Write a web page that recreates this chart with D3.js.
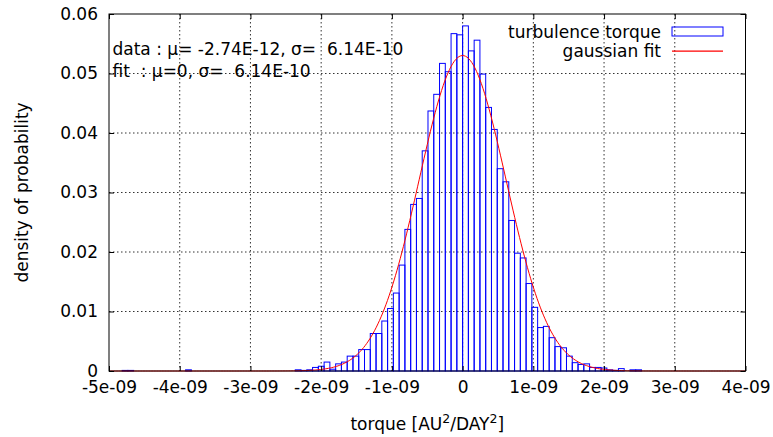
<!DOCTYPE html>
<html><head><meta charset="utf-8">
<script src="https://cdn.jsdelivr.net/npm/d3@7"></script>
<style>
html,body{margin:0;padding:0;background:#fff;}
text{font-family:"DejaVu Sans",sans-serif;white-space:pre;}
</style></head>
<body><svg id="c" width="773" height="437"></svg>
<script>
// ---- data ----
const binWidth = 8.16e-11;           // histogram bin width
const firstBin = -60;                // index of the first bin (bin i spans [i*w,(i+1)*w))
const binValues = [
  0,0.0001,0.0001,0,0,0,0,0,0,0, 0,0,0.0002,0,0,0,0,0,0,0, 0,0,0,0,0,0,0,0,0,0, 0,          // -60..-30
  0.0002,0.0001,                                                                            // -29,-28
  0.0002,0.0006,0.0008,0.0015,0.0003,0.0012,0.0015,0.0025,0.0025,0.0036,                    // -27..-18
  0.0036,0.0063,0.0063,0.0084,0.0105,0.0131,0.0178,0.0238,0.0280,0.0290,                    // -17..-8
  0.0370,0.0437,0.0465,0.0517,0.0503,0.0567,0.0565,                                         // -7..-1
  0.0580,0.0538,0.0556,0.0499,0.0443,0.0406,0.0340,0.0318,0.0253,0.0198,                    // 0..9
  0.0190,0.0147,0.0107,0.0073,0.0075,0.0056,0.0041,0.0039,0.0025,0.0014,                    // 10..19
  0.0011,0.0012,0.0006,0.0006,0.0005,0.0002,0.0001,0.0004,0,0.0002,                         // 20..29
  0.0002,0,0,0,0,0,0,0,0,0,0                                                                // 30..40
];
const fitMu = 0, fitSigma = 6.14e-10;   // gaussian fit parameters
const xTickValues = [-5e-9,-4e-9,-3e-9,-2e-9,-1e-9,0,1e-9,2e-9,3e-9,4e-9];
const xTickLabels = ["-5e-09","-4e-09","-3e-09","-2e-09","-1e-09","0","1e-09","2e-09","3e-09","4e-09"];
const yTickValues = [0,0.01,0.02,0.03,0.04,0.05,0.06];
const yTickLabels = ["0","0.01","0.02","0.03","0.04","0.05","0.06"];
const seriesNames = ["turbulence torque","gaussian fit"];
const annotations = ["data : \u03bc= -2.74E-12, \u03c3=  6.14E-10","fit  : \u03bc=0, \u03c3=  6.14E-10"];

// ---- layout ----
const FS=17;
const L=109, R=745.5, T=14, B=371;
const svg=d3.select("#c");
const x=d3.scaleLinear().domain([-5e-9,4e-9]).range([L,R]);
const y=d3.scaleLinear().domain([0,0.06]).range([B,T]);

// grid
const grid=svg.append("g").attr("stroke","#333").attr("stroke-width",1).attr("stroke-dasharray","1.5,2.5");
xTickValues.slice(1,-1).forEach(v=>grid.append("line").attr("x1",x(v)).attr("x2",x(v)).attr("y1",T).attr("y2",B));
yTickValues.slice(1,-1).forEach(v=>grid.append("line").attr("x1",L).attr("x2",R).attr("y1",y(v)).attr("y2",y(v)));

// bars
const bins=binValues.map((v,k)=>({i:firstBin+k,v}));
svg.append("g").selectAll("rect").data(bins).join("rect")
  .attr("x",d=>x(d.i*binWidth)).attr("width",d=>x((d.i+1)*binWidth)-x(d.i*binWidth))
  .attr("y",d=>y(d.v)).attr("height",d=>y(0)-y(d.v))
  .attr("fill","none").attr("stroke","#0000ff").attr("stroke-width",1);

// gaussian fit
const amp=binWidth/(fitSigma*Math.sqrt(2*Math.PI));
const xs=d3.range(0,401).map(k=>-5e-9+k*9e-9/400);
svg.append("path").datum(xs)
  .attr("d",d3.line().x(v=>x(v)).y(v=>y(amp*Math.exp(-0.5*((v-fitMu)/fitSigma)**2))))
  .attr("fill","none").attr("stroke","#ff0000").attr("stroke-width",1);

// axes (ticks inward, mirrored)
const tl=5;
const xb=svg.append("g").attr("transform",`translate(0,${B})`)
  .call(d3.axisBottom(x).tickValues(xTickValues).tickFormat((d,i)=>xTickLabels[i]).tickSizeInner(-tl).tickSizeOuter(0).tickPadding(10));
const xt=svg.append("g").attr("transform",`translate(0,${T})`)
  .call(d3.axisTop(x).tickValues(xTickValues).tickFormat("").tickSizeInner(-tl).tickSizeOuter(0));
const yl=svg.append("g").attr("transform",`translate(${L},0)`)
  .call(d3.axisLeft(y).tickValues(yTickValues).tickFormat((d,i)=>yTickLabels[i]).tickSizeInner(-tl).tickSizeOuter(0).tickPadding(11));
const yr=svg.append("g").attr("transform",`translate(${R},0)`)
  .call(d3.axisRight(y).tickValues(yTickValues).tickFormat("").tickSizeInner(-tl).tickSizeOuter(0));
[xb,xt,yl,yr].forEach(g=>{g.select(".domain").remove();g.selectAll("text").attr("font-size",FS).attr("fill","#000").attr("font-family","DejaVu Sans");g.selectAll("line").attr("stroke","#000");});
xb.selectAll("text").attr("dy","0.71em");

// border
svg.append("rect").attr("x",L).attr("y",T).attr("width",R-L).attr("height",B-T).attr("fill","none").attr("stroke","#000").attr("stroke-width",1);

// annotations
svg.append("text").attr("x",112.5).attr("y",55).attr("font-size",FS).text(annotations[0]);
svg.append("text").attr("x",112.5).attr("y",77).attr("font-size",FS).text(annotations[1]);

// legend
svg.append("text").attr("x",661).attr("y",37.5).attr("text-anchor","end").attr("font-size",FS).text(seriesNames[0]);
svg.append("rect").attr("x",672).attr("y",27).attr("width",51).attr("height",9).attr("fill","none").attr("stroke","#0000ff").attr("stroke-width",1);
svg.append("text").attr("x",661).attr("y",57).attr("text-anchor","end").attr("font-size",FS).text(seriesNames[1]);
svg.append("line").attr("x1",672).attr("x2",723).attr("y1",51.2).attr("y2",51.2).attr("stroke","#ff0000").attr("stroke-width",1.2);

// axis titles
svg.append("text").attr("transform",`translate(28,${(T+B)/2}) rotate(-90)`).attr("text-anchor","middle").attr("font-size",FS).text("density of probability");
const xtitle=svg.append("text").attr("x",(L+R)/2).attr("y",430).attr("text-anchor","middle").attr("font-size",FS);
xtitle.append("tspan").text("torque [AU");
xtitle.append("tspan").attr("dy",-7).attr("font-size",12.5).text("2");
xtitle.append("tspan").attr("dy",7).text("/DAY");
xtitle.append("tspan").attr("dy",-7).attr("font-size",12.5).text("2");
xtitle.append("tspan").attr("dy",7).text("]");
</script></body></html>
